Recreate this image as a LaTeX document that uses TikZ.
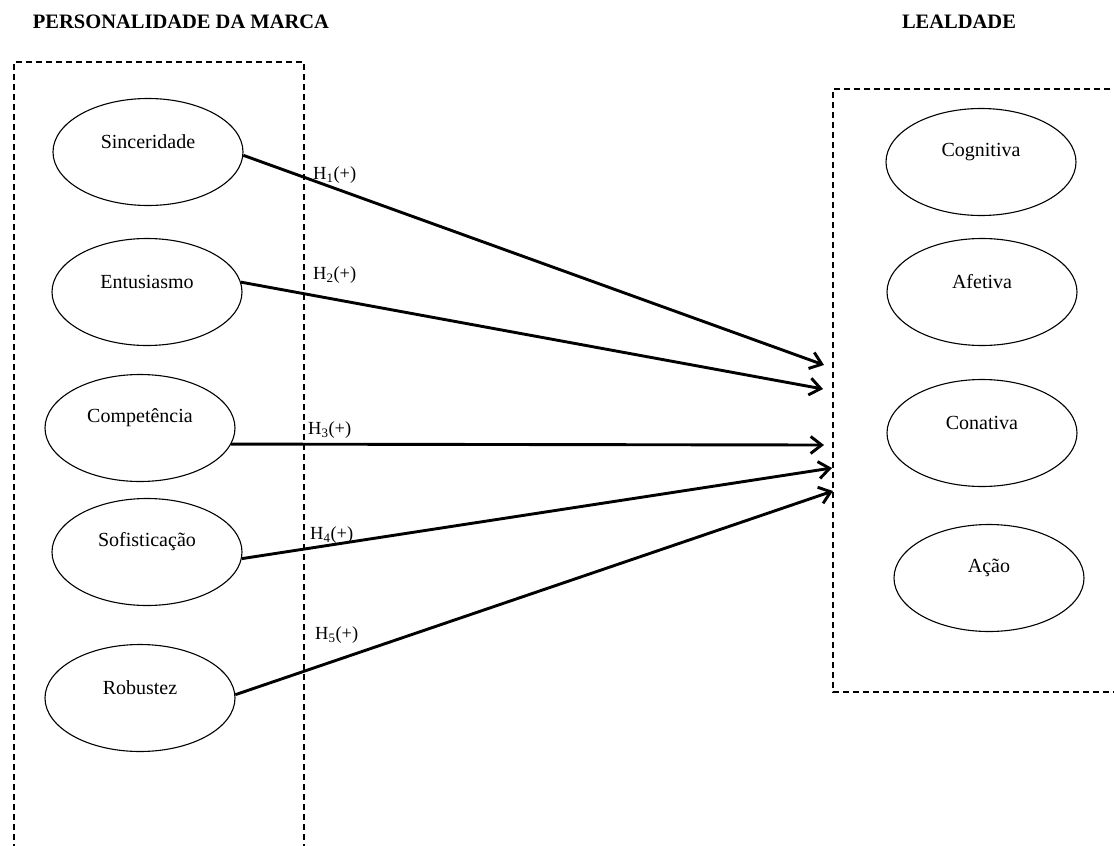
\documentclass[tikz,border=0pt]{standalone}
\usepackage{fontspec}
\setmainfont{Liberation Serif}
\usetikzlibrary{arrows.meta,shapes.geometric}
\begin{document}
\begin{tikzpicture}[x=1pt,y=-1pt,
  construct/.style={ellipse,draw,line width=1.1pt,minimum width=190pt,minimum height=107pt,inner sep=0pt},
  lbl/.style={font=\fontsize{20}{22}\selectfont},
  groupbox/.style={draw,line width=1.5pt,dash pattern=on 6pt off 4pt},
  title/.style={font=\fontsize{20.5}{24}\bfseries\selectfont},
  hyp/.style={line width=2.9pt,-{Straight Barb[length=11pt,width=17pt,line width=2.9pt]}},
  hlabel/.style={font=\fontsize{18.5}{20}\selectfont,anchor=west,inner sep=0pt}]
\useasboundingbox (0,0) rectangle (1114,846);
\fill[white] (0,0) rectangle (1114,846);
% titles
\node[title] (tp) at (181,22) {PERSONALIDADE DA MARCA};
\node[title] (tl) at (959,22) {LEALDADE};
% group boxes
\draw[groupbox] (14,850) -- (14,62) -- (304,62) -- (304,850);
\draw[groupbox] (1120,89) -- (833,89) -- (833,692) -- (1120,692);
% left constructs
\node[construct,label={[lbl,yshift=10pt]center:Sinceridade}] (s) at (148,152) {};
\node[construct,label={[lbl,yshift=10pt]center:Entusiasmo}] (e) at (147,292) {};
\node[construct,label={[lbl,yshift=10pt]center:Competência}] (c) at (140,428) {};
\node[construct,label={[lbl,yshift=10pt]center:Sofisticação}] (so) at (147,552) {};
\node[construct,label={[lbl,yshift=10pt]center:Robustez}] (r) at (140,698) {};
% right constructs
\node[construct,label={[lbl,yshift=10pt]center:Cognitiva}] (cog) at (981,162) {};
\node[construct,label={[lbl,yshift=10pt]center:Afetiva}] (af) at (982,292) {};
\node[construct,label={[lbl,yshift=10pt]center:Conativa}] (con) at (982,433) {};
\node[construct,label={[lbl,yshift=10pt]center:Ação}] (ac) at (989,578) {};
% arrow tips
\coordinate (t1) at (824,365);
\coordinate (t2) at (823,389);
\coordinate (t3) at (824,445);
\coordinate (t4) at (832,468);
\coordinate (t5) at (833,491);
\draw[hyp] (s.-2) -- (t1);
\draw[hyp] (e.6) -- (t2);
\draw[hyp] (c.-10) -- (t3);
\draw[hyp] (so.-4) -- (t4);
\draw[hyp] (r.2) -- (t5);
% hypothesis labels
\node[hlabel] (h1) at (313,175) {H\textsubscript{1}(+)};
\node[hlabel] (h2) at (313,275) {H\textsubscript{2}(+)};
\node[hlabel] (h3) at (308,430) {H\textsubscript{3}(+)};
\node[hlabel] (h4) at (310,535) {H\textsubscript{4}(+)};
\node[hlabel] (h5) at (315,635) {H\textsubscript{5}(+)};
\end{tikzpicture}
\end{document}
